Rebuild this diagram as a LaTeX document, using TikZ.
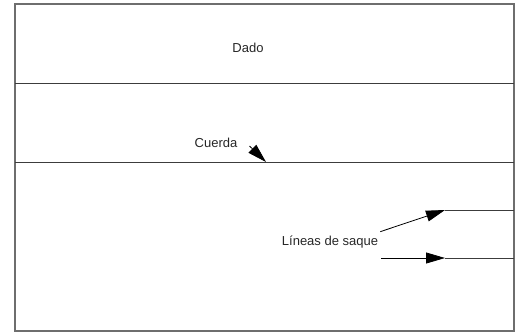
\documentclass[tikz,border=0pt]{standalone}
\usepackage{fontspec}
\setmainfont{Liberation Sans}
\usepackage{xcolor}
\usetikzlibrary{positioning, arrows.meta}
\definecolor{linegray}{RGB}{60, 60, 60}
\definecolor{framegray}{RGB}{110, 110, 110}

\begin{document}
\begin{tikzpicture}[x=1pt, y=-1pt,
            courtline/.style={draw=linegray, line width=1pt},
            courttext/.style={font=\fontsize{13}{15}\selectfont, text=black!85, inner sep=1pt},
            pointer/.style={draw=black, line width=0.8pt, -{Triangle[length=19pt, width=11pt]}}
        ]
            \useasboundingbox (0,0) rectangle (520,333);
            \draw[framegray, line width=1.2pt] (15,4) rectangle (514,331);

            % court lines
            \draw[courtline] (15,83) -- (514,83);
            \draw[courtline] (15,162) -- (514,162);
            \coordinate (saqueA) at (445,210);
            \coordinate (saqueAend) at (514,210);
            \coordinate (saqueB) at (381,258);
            \coordinate (saqueBmid) at (445,258);
            \coordinate (saqueBend) at (514,258);
            \draw[courtline] (saqueA) -- (saqueAend);
            \draw[courtline] (saqueBmid) -- (saqueBend);

            \node (dado) [courttext] at (248,48) {Dado};
            \node (cuerda) [courttext] at (216,143) {Cuerda};
            \node (saque) [courttext] at (330,242) {Líneas de saque};

            \coordinate (cuerdaTip) at (266,162);
            \draw[pointer] (cuerda.east) ++(11,3) coordinate (cuerdaStart) -- (cuerdaTip);
            \draw[pointer] (saque.north east) ++(1,-3) coordinate (saqueStart) -- (saqueA);
            \draw[pointer] (saqueB) -- (saqueBmid);
        \end{tikzpicture}
\end{document}
